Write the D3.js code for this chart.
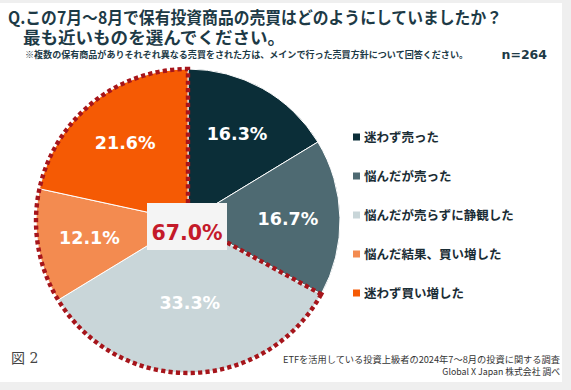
<!DOCTYPE html>
<html><head><meta charset="utf-8">
<script src="https://cdn.jsdelivr.net/npm/d3@7"></script>
<style>html,body{margin:0;padding:0;background:#efefef;}svg{display:block;}</style>
</head><body>
<svg id="chart" width="571" height="390"></svg>
<script>
const categories = ["迷わず売った","悩んだが売った","悩んだが売らずに静観した","悩んだ結果、買い増した","迷わず買い増した"];
const values = [16.3, 16.7, 33.3, 12.1, 21.6];
const colors = ["#0b2e38","#4e6a72","#c9d6d9","#f38b50","#f55a04"];
const highlightStart = 2; // slices from this index to the end are enclosed
const highlightLabel = "67.0%";
const titleLines = ["Q.この7月～8月で保有投資商品の売買はどのようにしていましたか？","最も近いものを選んでください。"];
const noteText = "※複数の保有商品がありそれぞれ異なる売買をされた方は、メインで行った売買方針について回答ください。";
const nText = "n=264";
const figLabel = "図 2";
const sourceLines = ["ETFを活用している投資上級者の2024年7～8月の投資に関する調査","Global X Japan 株式会社 調べ"];

const svg = d3.select("#chart");
const jp = "'Noto Sans CJK JP','Noto Sans',sans-serif";

// panel
svg.append("rect").attr("x",0).attr("y",0).attr("width",571).attr("height",390).attr("fill","#efefef");
svg.append("rect").attr("x",0).attr("y",3).attr("width",562).attr("height",379).attr("fill","#ffffff");

// title
svg.append("text").attr("x",8).attr("y",24).text(titleLines[0])
  .attr("font-family",jp).attr("font-weight",700).attr("font-size",16.5).attr("fill","#1d3a46")
  .attr("textLength",494).attr("lengthAdjust","spacingAndGlyphs");
svg.append("text").attr("x",23).attr("y",44).text(titleLines[1])
  .attr("font-family",jp).attr("font-weight",700).attr("font-size",16.5).attr("fill","#1d3a46")
  .attr("textLength",262).attr("lengthAdjust","spacingAndGlyphs");
svg.append("text").attr("x",25).attr("y",58).text(noteText)
  .attr("font-family",jp).attr("font-weight",700).attr("font-size",9).attr("fill","#1d3a46")
  .attr("textLength",443).attr("lengthAdjust","spacingAndGlyphs");
svg.append("text").attr("x",547).attr("y",59).attr("text-anchor","end").text(nText)
  .attr("font-family","'DejaVu Sans',sans-serif").attr("font-weight",700).attr("font-size",12.5).attr("fill","#1d3a46");

// pie
const cx = 188, cy = 221, r = 152;
const g = svg.append("g").attr("transform",`translate(${cx},${cy})`);
const pie = d3.pie().sort(null).value(d=>d).startAngle(0).endAngle(2*Math.PI);
const arcs = pie(values);
const arc = d3.arc().innerRadius(0).outerRadius(r);
g.selectAll("path.slice").data(arcs).join("path").attr("class","slice")
  .attr("d",arc).attr("fill",(d,i)=>colors[i]).attr("stroke","#ffffff").attr("stroke-width",1);

// dotted highlight outline
const hl = {startAngle: arcs[highlightStart].startAngle, endAngle: arcs[arcs.length-1].endAngle};
g.append("path").attr("d", d3.arc().innerRadius(0).outerRadius(r)(hl))
  .attr("fill","none").attr("stroke","#a6151b").attr("stroke-width",4.4)
  .attr("stroke-dasharray","4.2 3.2");

// labels
const labelArc = d3.arc().innerRadius(100).outerRadius(100);
const labelArcLow = d3.arc().innerRadius(82).outerRadius(82);
g.selectAll("text.lbl").data(arcs).join("text").attr("class","lbl")
  .attr("transform",(d,i)=>{const c=(i===2?labelArcLow:labelArc).centroid(d);return `translate(${c[0]},${c[1]})`;})
  .attr("text-anchor","middle").attr("dy","0.36em")
  .attr("font-family","'DejaVu Sans',sans-serif").attr("font-weight",700).attr("font-size",17.5)
  .attr("fill","#ffffff").text(d=>d.value.toFixed(1)+"%");

// center box
g.append("rect").attr("x",-41).attr("y",-18).attr("width",80).attr("height",47).attr("fill","#f4f4f4");
g.append("text").attr("x",-1).attr("y",12).attr("text-anchor","middle").attr("dy","0.36em")
  .attr("font-family","'DejaVu Sans',sans-serif").attr("font-weight",700).attr("font-size",20.5)
  .attr("fill","#c41a2a").text(highlightLabel);

// legend
const lg = svg.append("g").attr("transform","translate(353,137)");
const rows = lg.selectAll("g").data(categories).join("g").attr("transform",(d,i)=>`translate(0,${i*39})`);
rows.append("rect").attr("x",0).attr("y",-3.5).attr("width",7).attr("height",7).attr("fill",(d,i)=>colors[i]);
rows.append("text").attr("x",11).attr("y",0).attr("dy","0.36em").text(d=>d)
  .attr("font-family",jp).attr("font-weight",700).attr("font-size",12.5).attr("fill","#1b2d35");

// footer
svg.append("text").attr("x",11).attr("y",363).text(figLabel)
  .attr("font-family","'DejaVu Serif','Noto Sans CJK JP',serif").attr("font-size",14).attr("fill","#444");
svg.selectAll("text.src").data(sourceLines).join("text").attr("class","src")
  .attr("x",560).attr("y",(d,i)=>363+i*11.5).attr("text-anchor","end").text(d=>d)
  .attr("font-family",jp).attr("font-size",8.8).attr("fill","#333")
  .attr("textLength",(d,i)=>i===0?277:null).attr("lengthAdjust","spacingAndGlyphs");
</script>
</body></html>
